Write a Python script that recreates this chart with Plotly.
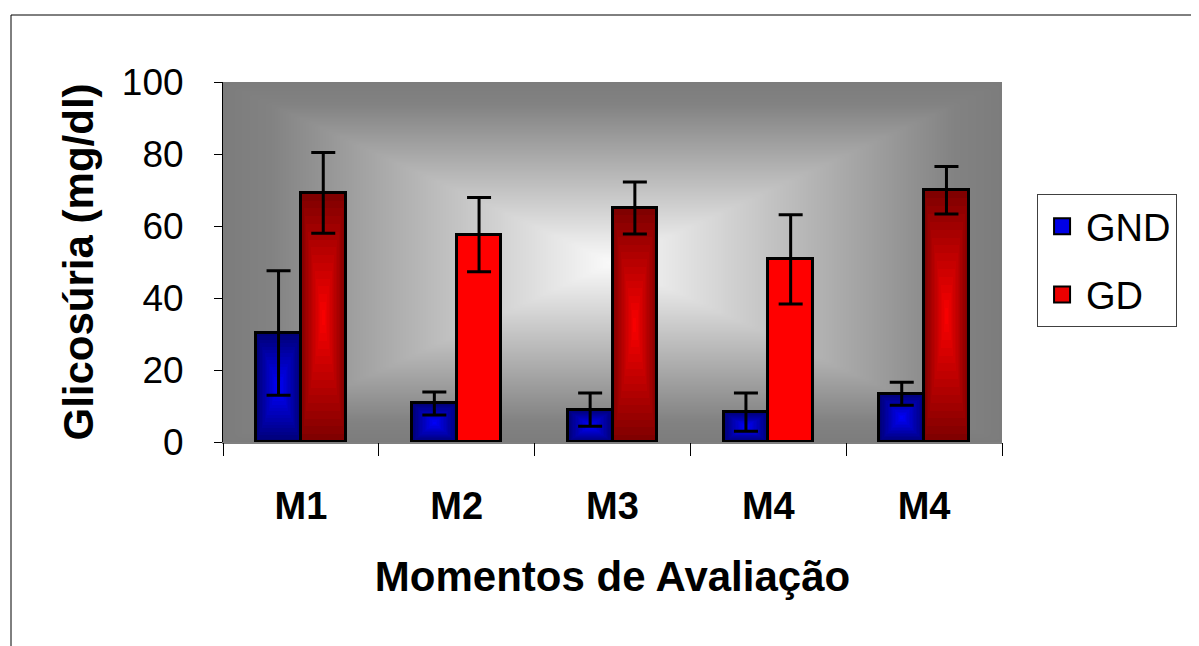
import numpy as np
import plotly.graph_objects as go

categories = ["M1", "M2", "M3", "M4", "M4"]
gnd_values = [30.3, 10.7, 9.0, 8.3, 13.4]
gnd_errors = [17.3, 3.2, 4.6, 5.3, 3.2]
gd_values = [69.2, 57.6, 65.0, 50.7, 69.9]
gd_errors = [11.2, 10.3, 7.2, 12.4, 6.6]
gd_gradient = [True, False, True, False, True]
y_ticks = [0, 20, 40, 60, 80, 100]

FONT = "Liberation Sans, Arial, sans-serif"
BAR_W = 0.287
idx = np.arange(len(categories))
x_gnd = idx - BAR_W / 2
x_gd = idx + BAR_W / 2

fig = go.Figure()

# background gradient (rectangular, light centre)
gx = np.linspace(-0.5, 4.5, 161)
gy = np.linspace(0, 100, 81)
U, V = np.meshgrid((gx - 2.0) / 2.5, (gy - 50) / 50)
T = np.maximum(np.abs(U), np.abs(V))
fig.add_trace(go.Heatmap(x=gx, y=gy, z=1 - T, zmin=0, zmax=1, zsmooth="best",
                         colorscale=[[0, "rgb(124,124,124)"], [0.12, "rgb(130,130,130)"], [1, "rgb(250,250,250)"]],
                         showscale=False, hoverinfo="skip"))


def mix(c0, c1, t):
    return "rgb(%d,%d,%d)" % tuple(int(round(a + (b - a) * t)) for a, b in zip(c0, c1))


N = 16
vals_gnd = np.array(gnd_values)
vals_gd = np.array(gd_values)
for k in range(N):
    t = k / N
    fig.add_trace(go.Bar(x=x_gnd, y=vals_gnd * (1 - t), base=vals_gnd * t / 2,
                         width=[BAR_W * (1 - t)] * len(categories),
                         marker=dict(color=mix((0, 0, 120), (0, 0, 255), t), line=dict(width=0)),
                         showlegend=False, hoverinfo="skip"))
    cols = [mix((128, 0, 0), (255, 0, 0), t) if g else "rgb(255,0,0)" for g in gd_gradient]
    fig.add_trace(go.Bar(x=x_gd, y=vals_gd * (1 - t), base=vals_gd * t / 2,
                         width=[BAR_W * (1 - t)] * len(categories),
                         marker=dict(color=cols, line=dict(width=0)),
                         showlegend=False, hoverinfo="skip"))

# outlines + error bars
for xs, vals, errs in [(x_gnd, gnd_values, gnd_errors), (x_gd, gd_values, gd_errors)]:
    fig.add_trace(go.Bar(x=xs, y=vals, width=[BAR_W] * len(categories),
                         marker=dict(color="rgba(0,0,0,0)", line=dict(color="black", width=3)),
                         error_y=dict(type="data", array=errs, color="black", thickness=3, width=12),
                         showlegend=False, hoverinfo="skip"))

# legend entries
fig.add_trace(go.Scatter(x=[None], y=[None], mode="markers", name="GND", legendgroup="a",
                         marker=dict(symbol="square", size=22, color="rgb(0,0,230)",
                                     line=dict(color="black", width=2))))
fig.add_trace(go.Scatter(x=[None], y=[None], mode="markers", name="GD", legendgroup="b",
                         marker=dict(symbol="square", size=22, color="rgb(235,0,0)",
                                     line=dict(color="black", width=2))))

fig.update_layout(
    width=1199, height=646,
    margin=dict(l=215, r=205, t=74, b=212),
    paper_bgcolor="white", plot_bgcolor="rgb(128,128,128)",
    barmode="overlay", bargap=0,
    font=dict(family=FONT, color="black"),
    showlegend=True,
    legend=dict(x=1.045, y=0.689, xanchor="left", yanchor="top",
                bordercolor="#404040", borderwidth=1, bgcolor="white",
                font=dict(size=38, family=FONT), traceorder="grouped",
                tracegroupgap=16, itemsizing="trace", itemwidth=38),
    xaxis=dict(range=[-0.5, 4.5], tickvals=list(idx), ticktext=["<b>%s</b>" % c for c in categories],
               ticks="", showgrid=False, zeroline=False,
               showline=True, linecolor="rgb(128,128,128)", linewidth=2,
               tickfont=dict(size=38, family=FONT), ticklabelstandoff=29,
               title=dict(text="<b>Momentos de Avaliação</b>", font=dict(size=42, family=FONT), standoff=36)),
    xaxis2=dict(range=[-0.5, 4.5], overlaying="x", matches="x", side="bottom",
                tickvals=list(np.arange(-0.5, 5.0, 1.0)), showticklabels=False,
                ticks="outside", ticklen=13, tickcolor="black", tickwidth=1,
                showgrid=False, zeroline=False, showline=False),
    yaxis=dict(range=[0, 100], tickvals=y_ticks, showgrid=False, zeroline=False,
               showline=True, linecolor="black", linewidth=1,
               ticks="outside", ticklen=8, tickcolor="black",
               tickfont=dict(size=37, family=FONT), ticklabelstandoff=23,
               title=dict(text="<b>Glicosúria (mg/dl)</b>", font=dict(size=42, family=FONT), standoff=15)),
    shapes=[dict(type="rect", xref="paper", yref="paper",
                 x0=(11 - 223) / 779, x1=2.0, y0=-1.0, y1=(442 - 15) / 360,
                 line=dict(color="black", width=1), fillcolor="rgba(0,0,0,0)", layer="below")],
)

fig.add_trace(go.Scatter(x=[None], y=[None], xaxis="x2", showlegend=False, hoverinfo="skip"))

fig.write_html("out.html")
